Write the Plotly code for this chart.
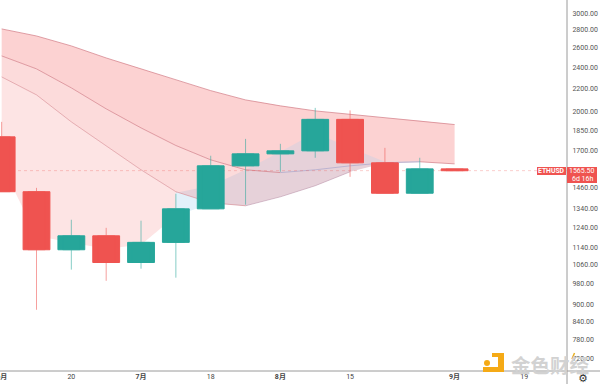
import plotly.graph_objects as go

W, H = 600, 384
PW, PH = 567, 371

dates = ["2022-06-06","2022-06-13","2022-06-20","2022-06-27","2022-07-04","2022-07-11","2022-07-18",
         "2022-07-25","2022-08-01","2022-08-08","2022-08-15","2022-08-22","2022-08-29","2022-09-05"]
opens  = [1800,1435,1129,1196,1071,1164,1337,1597,1678,1699,1935,1617,1426,1577]
highs  = [1915,1458,1278,1236,1273,1423,1665,1785,1749,2029,2008,1720,1651,1577]
lows   = [1435, 881,1040, 993,1044,1006,1337,1360,1558,1651,1526,1426,1426,1565]
closes = [1435,1129,1196,1071,1164,1337,1597,1678,1699,1935,1617,1426,1577,1565]

upper  = [2812,2731,2621,2494,2384,2278,2179,2097,2046,2004,1977,1947,1923,1894]
middle = [2515,2384,2204,2021,1868,1737,1637,1571,1553,1571,1597,1617,1624,1610]
lower  = [2306,2141,1915,1735,1571,1435,1371,1354,1405,1471,1558,1615,1620]
floor_curve = [1604,1196,1162,1134,1153,1299,1365,1354]
wedge_top = [1429,1471,1571,1692,1830,1720,1624,1630]

last_price = 1565.5
price_ticks = [3000,2800,2600,2400,2200,2000,1850,1700,1460,1340,1240,1140,1060,980,900,840,780,720]
price_text = [f"{v:.2f}" for v in price_ticks]
date_ticks = ["2022-06-06","2022-06-20","2022-07-04","2022-07-18","2022-08-01","2022-08-15","2022-09-05","2022-09-19"]
date_text = ["<b>6月</b>","20","<b>7月</b>","18","<b>8月</b>","15","<b>9月</b>","19"]

RED, GREEN = "#ef5350", "#26a69a"
FONT = "Roboto, Noto Sans CJK SC, sans-serif"
LINE_RED = "rgba(210,125,135,0.8)"
LINE_BLUE = "rgba(175,170,205,0.85)"
Y_RANGE = [2.8351, 3.5009]
WEEK_MS = 7 * 24 * 3600 * 1000


def band(x_top, y_top, x_bot, y_bot, color):
    return go.Scatter(x=list(x_top) + list(x_bot)[::-1], y=list(y_top) + list(y_bot)[::-1],
                      mode="none", fill="toself", fillcolor=color, hoverinfo="skip")


def line(x, y, color, width=0.9):
    return go.Scatter(x=x, y=y, mode="lines", line=dict(color=color, width=width), hoverinfo="skip")


fig = go.Figure()
fig.add_trace(band(dates, upper, dates, middle, "#fcd2d2"))
fig.add_trace(band(dates[:11], middle[:11], dates[:11], lower[:11], "#fcdbdb"))
fig.add_trace(band(dates[:6], lower[:6], dates[:6], floor_curve[:6], "#fde4e4"))
fig.add_trace(band(dates[5:8], lower[5:8], dates[5:8], floor_curve[5:8], "#e3f1fa"))
fig.add_trace(band(dates[5:13], wedge_top, dates[5:13], lower[5:13], "#e6d1d9"))
fig.add_trace(line(dates, upper, LINE_RED))
fig.add_trace(line(dates[:9], middle[:9], LINE_RED))
fig.add_trace(line(dates[8:13], middle[8:13], LINE_BLUE))
fig.add_trace(line(dates[12:], middle[12:], LINE_RED))
fig.add_trace(line(dates[:8], lower[:8], LINE_RED, 0.7))
fig.add_trace(line(dates[7:11], lower[7:11], "rgba(185,150,175,0.8)", 0.7))
fig.add_trace(go.Scatter(x=["2022-06-05 16:00", "2022-09-27 14:00"], y=[last_price, last_price], mode="lines",
                         line=dict(color="rgba(239,83,80,0.28)", width=1, dash="dot"), hoverinfo="skip"))
# full-width candle bodies (a candlestick trace cannot be this wide), then the candlestick itself for the wicks
body_colors = [GREEN if c >= o else RED for o, c in zip(opens, closes)]
fig.add_trace(go.Bar(x=dates, base=[min(o, c) for o, c in zip(opens, closes)],
                     y=[abs(o - c) for o, c in zip(opens, closes)], width=0.77 * WEEK_MS,
                     marker=dict(color=body_colors, line=dict(width=1, color=body_colors)),
                     yaxis="y2", hoverinfo="skip"))
fig.add_trace(go.Candlestick(x=dates, open=opens, high=highs, low=lows, close=closes, whiskerwidth=0, opacity=0.55,
                             increasing=dict(fillcolor=GREEN, line=dict(color=GREEN, width=1)),
                             decreasing=dict(fillcolor=RED, line=dict(color=RED, width=1)), yaxis="y2"))


def px(x):
    return x / PW


def py(y):
    return 1 - y / PH


def rect(x0, y0, x1, y1, color, layer="above"):
    return dict(type="rect", xref="paper", yref="paper", x0=px(x0), x1=px(x1), y0=py(y0), y1=py(y1),
                fillcolor=color, line=dict(width=0), layer=layer)


shapes = [
    dict(type="line", xref="paper", yref="paper", x0=px(567), x1=px(567), y0=py(0), y1=py(384),
         line=dict(color="#9a9a9a", width=1)),
    dict(type="line", xref="paper", yref="paper", x0=0, x1=px(600), y0=py(371), y1=py(371),
         line=dict(color="#9a9a9a", width=1)),
    rect(537, 167, 566, 175, RED),
    rect(567, 167, 597, 183, RED),
    # watermark logo
    rect(498, 353, 504, 372, "#f5aa16"),
    rect(492, 353, 504, 357, "#f5aa16"),
    rect(483, 367, 504, 372, "#f5aa16"),
    dict(type="circle", xref="paper", yref="paper", x0=px(484), x1=px(490), y0=py(360), y1=py(366),
         fillcolor="#f5aa16", line=dict(width=0)),
    dict(type="line", xref="paper", yref="paper", x0=px(572), x1=px(574.5), y0=py(359), y1=py(353),
         line=dict(color="#e8b020", width=1.5)),
]


def note(x, y, text, size, color, family=FONT, **kw):
    return dict(xref="paper", yref="paper", x=px(x), y=py(y), text=text, showarrow=False,
                font=dict(size=size, color=color, family=family), xanchor="center", yanchor="middle",
                borderpad=0, **kw)


annotations = [
    note(551.5, 171, "<b>ETHUSD</b>", 6.8, "white"),
    note(582, 171, "1565.50", 7, "white"),
    note(582, 179, "6d 16h", 7, "white"),
    note(550, 364, "<b>金色财经</b>", 19.5, "#d2d2d2", "Noto Sans CJK SC"),
    note(583, 378, "⚙", 11, "#333333", "DejaVu Sans"),
]

fig.update_layout(
    width=W, height=H, autosize=False, showlegend=False, paper_bgcolor="white", plot_bgcolor="white",
    margin=dict(l=0, r=W - PW, t=0, b=H - PH), barmode="overlay", shapes=shapes, annotations=annotations,
    font=dict(family=FONT, size=7, color="#555555"),
    xaxis=dict(type="date", range=["2022-06-05 16:00", "2022-09-27 14:00"], rangeslider=dict(visible=False),
               showgrid=False, zeroline=False, showline=False, tickmode="array", tickvals=date_ticks, ticktext=date_text,
               ticks="", tickangle=0, automargin=False, ticklabeloverflow="allow",
               tickfont=dict(size=7, color="#444444")),
    yaxis=dict(type="log", range=Y_RANGE, side="right", showgrid=False, zeroline=False, showline=False,
               tickmode="array", tickvals=price_ticks, ticktext=price_text, ticks="outside", ticklen=3,
               tickcolor="rgba(0,0,0,0)", automargin=False, tickfont=dict(size=7, color="#555555")),
    yaxis2=dict(type="log", range=Y_RANGE, overlaying="y", side="right", visible=False, automargin=False),
)
fig.write_html("out.html", config=dict(displayModeBar=False),
               post_script="document.body.style.margin='0';document.documentElement.style.overflow='hidden';")
